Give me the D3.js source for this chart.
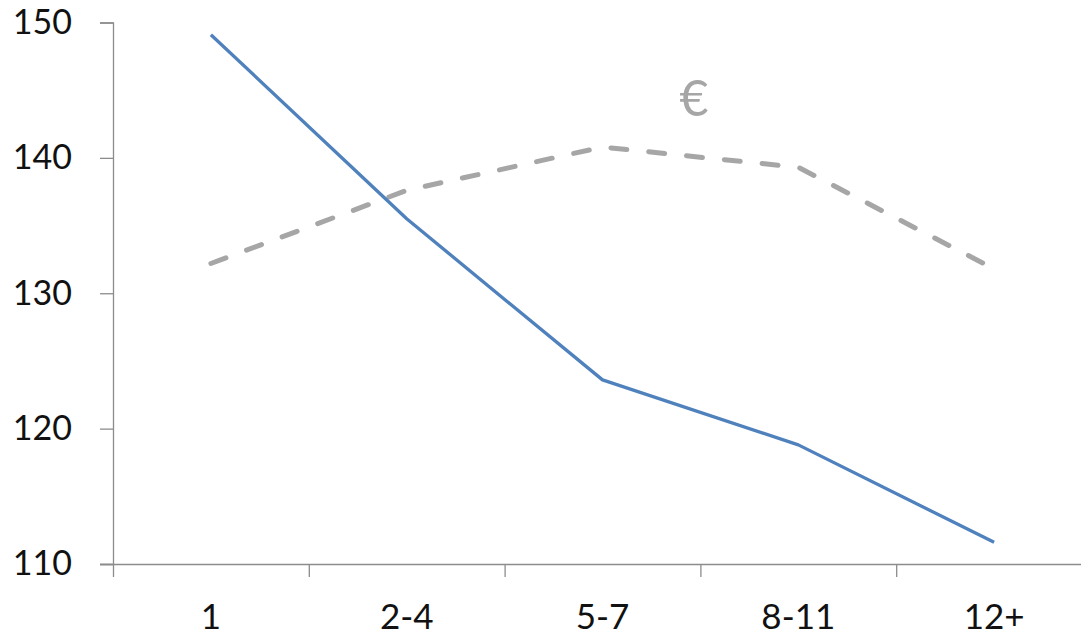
<!DOCTYPE html>
<html><head><meta charset="utf-8">
<script src="https://cdn.jsdelivr.net/npm/d3@7"></script>
<style>body{margin:0;background:#fff}svg{display:block}</style>
</head><body>
<svg id="c" width="1081" height="635"></svg>
<script>
const categories = ["1","2-4","5-7","8-11","12+"];
const blueSeries = [149.1, 135.5, 123.6, 118.8, 111.6];
const graySeries = [132.2, 137.6, 140.8, 139.3, 131.8];
const yTicks = [110, 120, 130, 140, 150];
const annotation = "€";

const svg = d3.select("#c");
const x = d3.scaleBand().domain(categories).range([113, 1092]);
const y = d3.scaleLinear().domain([110, 150]).range([564, 22.5]);
const font = "Lato, 'Open Sans', sans-serif";

const yAxis = svg.append("g").attr("transform","translate(113,0)")
  .call(d3.axisLeft(y).tickValues(yTicks).tickSize(13).tickPadding(28).tickFormat(d3.format("d")));
yAxis.select(".domain").attr("stroke","#8c8c8c").attr("stroke-width",1.3);
yAxis.selectAll(".tick line").attr("stroke","#8c8c8c").attr("stroke-width",1.3);
yAxis.selectAll("text").attr("font-family",font).attr("font-size",34).attr("fill","#111");

const xAxis = svg.append("g").attr("transform","translate(0,564)")
  .call(d3.axisBottom(x).tickSize(0).tickPadding(40));
xAxis.select(".domain").attr("d","M100,0.5H1092").attr("stroke","#8c8c8c").attr("stroke-width",1.3);
xAxis.selectAll("text").attr("font-family",font).attr("font-size",35).attr("fill","#111");
// category separators
const bounds = categories.map(c => x(c)).concat([x.range()[1]]);
svg.append("g").selectAll("line").data(bounds).join("line")
  .attr("x1",d=>d+0.5).attr("x2",d=>d+0.5).attr("y1",564).attr("y2",577)
  .attr("stroke","#8c8c8c").attr("stroke-width",1.3);

const cx = c => x(c) + x.bandwidth()/2;
const line = d3.line().x((d,i)=>cx(categories[i])).y(d=>y(d));

svg.append("path").datum(graySeries).attr("d",line)
  .attr("fill","none").attr("stroke","#a6a6a6").attr("stroke-width",5)
  .attr("stroke-dasharray","16,22").attr("stroke-linecap","round");
svg.append("path").datum(blueSeries).attr("d",line)
  .attr("fill","none").attr("stroke","#4f81bd").attr("stroke-width",3.3)
  .attr("stroke-linejoin","round");

svg.append("text").attr("x",694).attr("y",116).attr("text-anchor","middle")
  .attr("font-family",font).attr("font-size",50).attr("fill","#a6a6a6").text(annotation);
</script>
</body></html>
